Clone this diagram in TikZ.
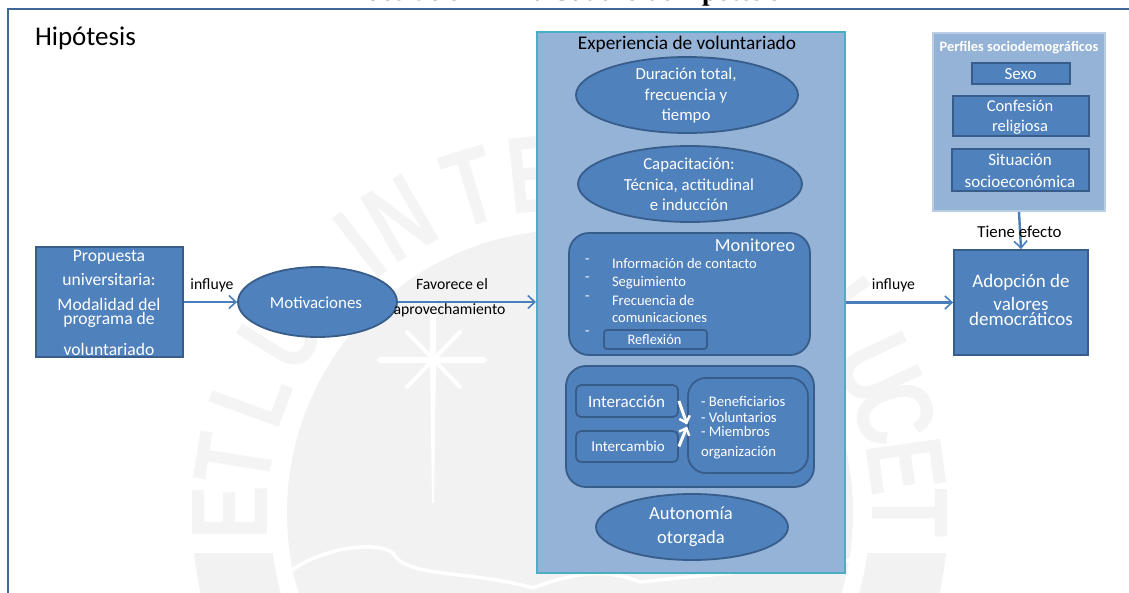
\documentclass[tikz,border=0pt]{standalone}
\usepackage{fontspec}
\setmainfont{Carlito}
\newfontfamily\titlefont{Liberation Serif}
\newfontfamily\markfont{Liberation Sans}
\usetikzlibrary{arrows.meta,shapes.geometric,calc}
\definecolor{boxfill}{HTML}{4F81BD}
\definecolor{boxline}{HTML}{385D8A}
\definecolor{panelfill}{HTML}{95B3D7}
\definecolor{panelline}{HTML}{4BACC6}
\definecolor{softline}{HTML}{B9CDE5}
\definecolor{frameline}{HTML}{3F6797}
\definecolor{arrowblue}{HTML}{4A7EBB}
\definecolor{markgrey}{HTML}{F2F2F2}
\definecolor{markletter}{HTML}{F4F4F4}
\newcommand{\fs}[2]{\fontsize{#1}{#2}\selectfont}
\tikzset{
  shapebox/.style={draw=boxline,fill=boxfill,line width=1.8pt,inner sep=0pt},
  blobshape/.style={shapebox,ellipse},
  softshape/.style={shapebox,rounded corners=#1},
  lbl/.style={inner sep=0pt,outer sep=0pt,text=white,align=center},
  blk/.style={inner sep=0pt,outer sep=0pt,text=black,align=center},
  flow/.style={draw=arrowblue,line width=2.4pt,-{Straight Barb[length=7pt,width=13pt,line width=1.6pt]}},
  wflow/.style={draw=white,line width=3pt,-{Straight Barb[length=6pt,width=11pt,line width=2.4pt]}},
  wm/.style={inner sep=0pt,text=markletter,font=\markfont\bfseries\fs{109}{109}}
}
\newcommand{\bx}[6]{\node[#1,minimum width=#4pt-#2pt,minimum height=#5pt-#3pt] (#6) at ({(#2+#4)/2},{(#3+#5)/2}) {};}
\begin{document}
\begin{tikzpicture}[x=1pt,y=-1pt]
\useasboundingbox (0,0) rectangle (1129,592);
\clip (0,0) rectangle (1129,592);
\fill[white] (0,0) rectangle (1129,592);
% watermark
\coordinate (C) at (570,513);
\fill[markgrey] (C) circle[radius=283pt];
\begin{scope}
\clip (0,553) rectangle (1129,592);
\draw[markgrey,line width=78pt] (C) circle[radius=339pt];
\end{scope}
\foreach \l/\a in {E/180,T/171,L/160,U/148,I/128,N/120,T/107,E/96,L/36,U/25,C/17,E/8,T/0}
  \node[wm,rotate=\a-90] (mark\a) at ([shift={(\a:340pt)}]C) {\scalebox{.74}[1]{\l}};
\draw[white,line width=3.5pt,line cap=round] (288,573) .. controls (320,548) and (375,540) .. (393,553) .. controls (405,578) and (470,570) .. (533,588);
\draw[white,line width=3.5pt,line cap=round] (533,588) .. controls (580,570) and (610,570) .. (640,582) .. controls (700,575) and (780,570) .. (852,560);
\draw[white,line width=6pt,line cap=round] (380,360) -- (484,360);
\fill[white] (430,300) -- (436,300) -- (436,360) -- (434,503) -- (432,503) -- (430,360) -- cycle;
\draw[white,line width=4pt,line cap=round] (407,387) -- (460,332) (460,387) -- (407,332);
% frame
\coordinate (frameA) at (7.5,600);
\coordinate (frameB) at (7.5,8.5);
\coordinate (frameC) at (1140,8.5);
\draw[frameline,line width=2pt] (frameA) -- (frameB) -- (frameC);
\node[blk,anchor=base,font=\titlefont\bfseries\fs{27}{27}] (title) at (565,0) {Ilustración N° 1: Cuadro de hipótesis};
\node[blk,anchor=base west,font=\fs{27}{27}] (hip) at (35,45) {Hipótesis};
% left
\bx{shapebox}{36}{247}{183}{357}{prop}
\node[lbl,font=\fs{17.6}{24}] (propt) at (109,303) {Propuesta\\universitaria:\\[1pt]Modalidad del\\[-10pt]programa de\\[7pt]voluntariado};
\node[blobshape,minimum width=159pt,minimum height=70pt] (moti) at (317.5,302) {};
\node[lbl,font=\fs{16.9}{20}] (motit) at (316,303) {Motivaciones};
% panel
\bx{draw=panelline,fill=panelfill,line width=2pt,inner sep=0pt}{537}{32}{845}{573}{panel}
\draw[flow] (prop.east |- moti.west) -- (moti.west);
\draw[flow] (moti.east) -- (panel.west |- moti.east);
\node[blk,font=\fs{19.3}{22}] (expt) at (687,44) {Experiencia de voluntariado};
\node[blobshape,minimum width=222pt,minimum height=76pt] (dur) at (687,95) {};
\node[lbl,font=\fs{16.8}{20.5}] (durt) at (686,96) {Duración total,\\frecuencia y\\tiempo};
\node[blobshape,minimum width=224pt,minimum height=76pt] (cap) at (690,184) {};
\node[lbl,font=\fs{16.8}{20.5}] (capt) at (689,184.5) {Capacitación:\\Técnica, actitudinal\\e inducción};
\bx{softshape=20pt}{569}{233}{810}{355}{moni}
\node[lbl,anchor=base,font=\fs{18.4}{20}] (monit) at (755,251) {Monitoreo};
\node[lbl,anchor=north west,align=left,font=\fs{14.6}{18}] (monil) at (612,258) {Información de contacto\\Seguimiento\\[1pt]Frecuencia de\\[-1pt]comunicaciones};
\node[lbl,anchor=north west,align=left,font=\fs{14.6}{18}] (monid) at (585,259) {-\\-\\[1pt]-\\[17pt]-};
\bx{softshape=3pt}{604}{330}{707}{349}{refl}
\node[lbl,font=\fs{14.4}{16}] (reflt) at (654.5,339.5) {Reflexión};
\bx{softshape=20pt}{566}{366}{814}{487}{inter}
\bx{softshape=5pt}{576}{385}{678}{417}{ina}
\node[lbl,font=\fs{17}{20}] (inat) at (626.5,401.5) {Interacción};
\bx{softshape=5pt}{576}{431}{678}{462}{inb}
\node[lbl,font=\fs{15}{20}] (inbt) at (628,446.5) {Intercambio};
\bx{softshape=18pt}{688}{378}{808}{473}{who}
\node[lbl,anchor=north west,align=left,font=\fs{14.7}{15}] (whot) at (701,396) {- Beneficiarios\\[1pt]- Voluntarios\\[-1pt]- Miembros\\[5pt]organización};
\draw[wflow] (ina.east) -- ([yshift=1pt]who.west);
\draw[wflow] (inb.east) -- ([yshift=-1pt]who.west);
\node[blobshape,minimum width=192pt,minimum height=66pt] (auto) at (692,527) {};
\node[lbl,font=\fs{18.5}{24}] (autot) at (691,527) {Autonomía\\otorgada};
% right
\bx{draw=softline,fill=panelfill,line width=2pt,inner sep=0pt}{933}{33}{1105}{211}{perf}
\node[lbl,font=\bfseries\fs{14.4}{14}] (perft) at (1019,47.5) {Perfiles sociodemográficos};
\bx{shapebox}{972}{63}{1070}{84}{sexo}
\node[lbl,font=\fs{17}{18}] (sexot) at (1020.5,74) {Sexo};
\bx{shapebox}{953}{96}{1089}{136}{conf}
\node[lbl,font=\fs{16.5}{20}] (conft) at (1020,117.5) {Confesión\\religiosa};
\bx{shapebox}{952}{149}{1089}{191}{situ}
\node[lbl,font=\fs{17}{22}] (situt) at (1020,171) {Situación\\socioeconómica};
\bx{shapebox}{954}{250}{1088}{355}{adop}
\node[lbl,font=\fs{19}{24}] (adopt) at (1021,300) {Adopción de\\[-1pt]valores\\[-9pt]democráticos};
\draw[flow] (panel.east |- adop.west) -- (adop.west);
\draw[flow] (perf.south) -- (adop.north);
\node[blk,font=\fs{16.8}{18}] (efecto) at (1019.5,231.5) {Tiene efecto};
\node[blk,font=\fs{15.7}{18}] (infa) at (212,285) {influye};
\node[blk,font=\fs{15.7}{18}] (infb) at (893.5,285) {influye};
\node[blk,font=\fs{15.7}{18}] (fav) at (452,284) {Favorece el};
\node[blk,font=\fs{15.7}{18}] (apro) at (449.5,310) {aprovechamiento};
\end{tikzpicture}
\end{document}
